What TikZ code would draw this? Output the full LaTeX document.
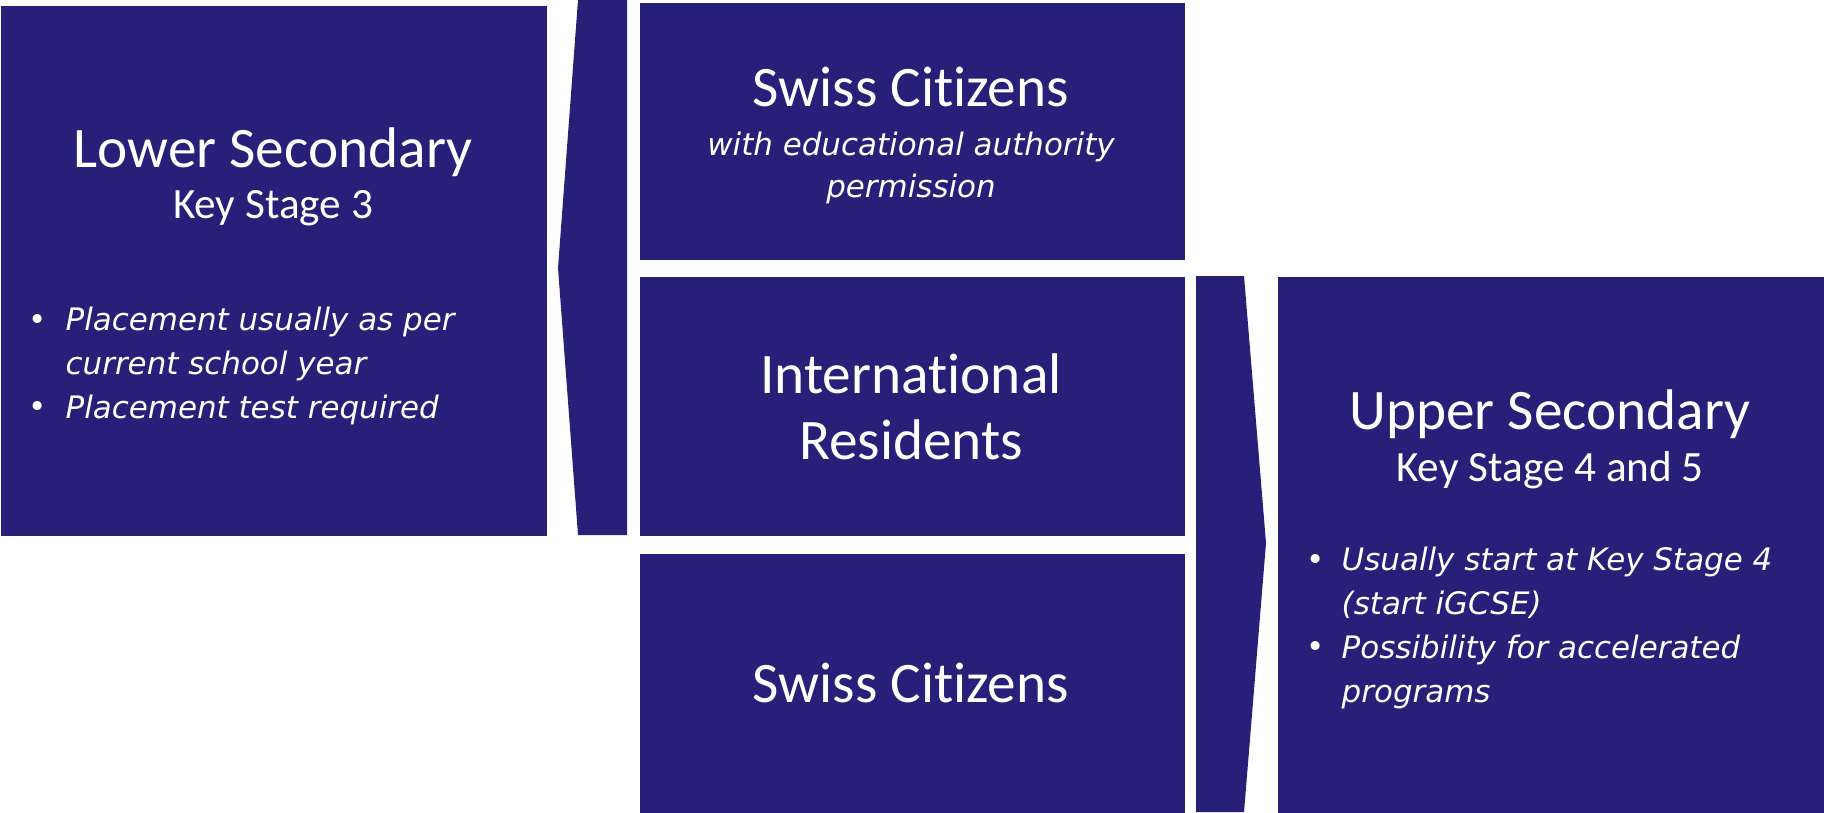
\documentclass[tikz,border=0pt]{standalone}
\usepackage{fontspec}
\setmainfont{Carlito}[Ligatures={NoCommon,NoRequired,NoContextual}]
\newfontfamily\notefont{DejaVu Sans}
\definecolor{navy}{RGB}{38,32,120}
\begin{document}
\begin{tikzpicture}[x=0.1mm, y=-0.1mm]
	\tikzstyle{block}=[fill=navy, inner sep=0pt, anchor=north west]
	\tikzstyle{title}=[text=white, inner sep=0pt, anchor=base, font=\fontsize{16.3}{19}\selectfont]
	\tikzstyle{sub}=[text=white, inner sep=0pt, anchor=base, font=\fontsize{12.3}{14}\selectfont]
	\tikzstyle{note}=[text=white, inner sep=0pt, anchor=base west, font=\notefont\itshape\fontsize{8.8}{12}\selectfont]
	\tikzstyle{dot}=[text=white, inner sep=0pt, anchor=base, font=\notefont\fontsize{8.8}{12}\selectfont]
	\useasboundingbox (0,0) rectangle (1824,812);
	% Blocks
	\node[block, minimum width=54.6mm, minimum height=53mm] (lower) at (0,5) {};
	\node[block, minimum width=54.5mm, minimum height=25.7mm] (swisstop) at (639,2) {};
	\node[block, minimum width=54.5mm, minimum height=25.9mm] (intl) at (639,276) {};
	\node[block, minimum width=54.5mm, minimum height=25.9mm] (swissbot) at (639,553) {};
	\node[block, minimum width=54.7mm, minimum height=53.6mm] (upper) at (1277,276) {};
	% Chevrons
	\fill[navy] (578,0) -- (627,0) -- (627,535) -- (578,535) -- (558,268) -- cycle;
	\fill[navy] (1196,276) -- (1244,276) -- (1266,543) -- (1244,812) -- (1196,812) -- cycle;
	%---------------------%
	% Lower secondary
	\node[title] (lowertitle) at (273,167) {Lower Secondary};
	\node[sub] (lowersub) at (273,218) {Key Stage 3};
	\foreach \t [count=\i] in {Placement usually as per, current school year, Placement test required}
		\node[note] (lownote_\i) at (65,286+\i*44) {\t};
	\foreach \y in {330,417}
		\node[dot] (lowdot_\y) at (38,\y) {•};
	% Swiss with permission
	\node[title] (swisstitle) at (911,106) {Swiss Citizens};
	\node[note, anchor=base] (swissnote_1) at (911,155) {with educational authority};
	\node[note, anchor=base] (swissnote_2) at (911,197) {permission};
	% International
	\node[title] (intltitle_1) at (911,393) {International};
	\node[title] (intltitle_2) at (911,459) {Residents};
	% Swiss
	\node[title] (swissbottitle) at (911,702) {Swiss Citizens};
	% Upper secondary
	\node[title] (uppertitle) at (1550,429) {Upper Secondary};
	\node[sub] (uppersub) at (1550,481) {Key Stage 4 and 5};
	\foreach \t [count=\i] in {Usually start at Key Stage 4, (start iGCSE), Possibility for accelerated, programs}
		\node[note] (upnote_\i) at (1341,526+\i*44) {\t};
	\foreach \y in {570,657}
		\node[dot] (updot_\y) at (1316,\y) {•};
	%---------------------%
\end{tikzpicture}
\end{document}
